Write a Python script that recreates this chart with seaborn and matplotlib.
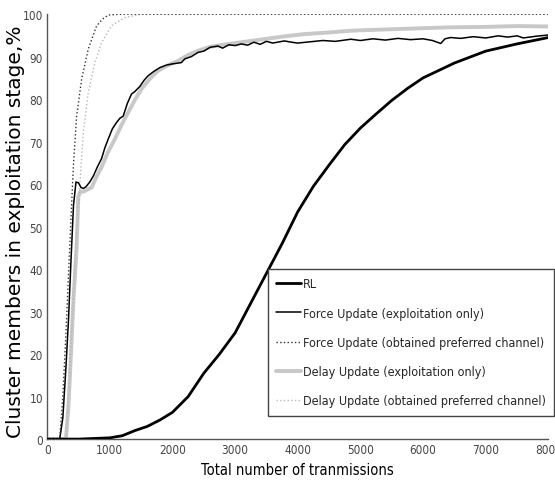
import pandas as pd
import matplotlib
matplotlib.use("Agg")
import matplotlib.pyplot as plt
import seaborn as sns

# Values (x = transmissions, y = %)
rl_x = [0, 500, 1000, 1200, 1400, 1600, 1800, 2000, 2250, 2500, 2750, 3000, 3250, 3500,
        3750, 4000, 4250, 4500, 4750, 5000, 5250, 5500, 5750, 6000, 6500, 7000, 7500, 8000]
rl_y = [0, 0, 0.3, 0.8, 2, 3, 4.5, 6.3, 10, 15.5, 20, 25, 32, 39,
        46, 53.5, 59.5, 64.5, 69.3, 73.2, 76.5, 79.7, 82.5, 85, 88.5, 91.3, 93, 94.5]

force_x = [0, 200, 250, 300, 340, 380, 420, 460, 500, 540, 580, 620, 680, 740, 800, 868,
           920, 974, 1040, 1107, 1160, 1213, 1280, 1346, 1400, 1480, 1550, 1611, 1700,
           1796, 1900, 2000, 2142, 2200, 2300, 2408, 2500, 2600, 2726, 2800, 2900, 3000,
           3100, 3200, 3300, 3400, 3500, 3600, 3787, 3900, 4000, 4200, 4400, 4600, 4849,
           5000, 5200, 5400, 5600, 5800, 6000, 6150, 6282, 6350, 6441, 6600, 6800, 7000,
           7200, 7350, 7503, 7600, 7800, 8000]
force_y = [0, 0, 5, 17, 28, 42, 55, 60.5, 60.3, 59.2, 59, 59.4, 60.5, 62, 64, 66,
           68.5, 70.6, 73, 74.5, 75.5, 76, 79, 81.2, 81.8, 83, 84.5, 85.5, 86.5,
           87.4, 88, 88.3, 88.6, 89.5, 90, 91, 91.3, 92.2, 92.5, 92, 92.8, 92.6,
           93, 92.7, 93.4, 92.9, 93.6, 93.2, 93.7, 93.4, 93.2, 93.5, 93.8, 93.6, 94.1,
           93.8, 94.2, 93.9, 94.3, 94.0, 94.2, 93.8, 93.1, 94.2, 94.5, 94.3, 94.7, 94.4,
           94.9, 94.6, 94.9, 94.4, 94.8, 95.1]

force_pref_x = [0, 200, 250, 300, 350, 417, 470, 550, 656, 788, 880, 975, 1200, 8000]
force_pref_y = [0, 0, 10, 25, 42, 64, 76, 84.7, 91.8, 97.2, 98.8, 99.8, 100, 100]

delay_x = [0, 300, 340, 380, 420, 470, 497, 530, 576, 640, 709, 780, 868, 970, 1080,
           1190, 1293, 1400, 1505, 1640, 1771, 1930, 2089, 2250, 2408, 2600, 2800, 3000,
           3256, 3500, 3800, 4100, 4500, 4849, 5200, 5600, 6000, 6441, 7000, 7500, 8000]
delay_y = [0, 0, 8, 20, 33, 45, 57, 58.3, 58.2, 58.7, 59.2, 61.5, 64, 67.5, 70.6,
           74, 76.9, 79.8, 82.4, 84.8, 86.7, 88, 89, 90.4, 91.4, 92.3, 92.8, 93.2,
           93.7, 94.2, 94.8, 95.3, 95.7, 96.1, 96.3, 96.5, 96.7, 96.9, 97.0, 97.2, 97.1]

delay_pref_x = [0, 300, 360, 410, 460, 523, 576, 656, 762, 868, 1027, 1239, 1505, 8000]
delay_pref_y = [0, 0, 15, 32, 47, 60.4, 72, 81.6, 88.6, 93.3, 97.3, 99.2, 100, 100]

labels = ["RL",
          "Force Update (exploitation only)",
          "Force Update (obtained preferred channel)",
          "Delay Update (exploitation only)",
          "Delay Update (obtained preferred channel)"]

sns.set_style("white")
plt.rcParams["font.family"] = ["DejaVu Sans", "Liberation Sans"]

fig = plt.figure(figsize=(5.55, 4.89), dpi=100)
ax = fig.add_axes([0.085, 0.100, 0.903, 0.869])

# thick grey line drawn underneath the black ones
sns.lineplot(x=delay_x, y=delay_y, ax=ax, color="#c8c8c8", linewidth=2.8,
             label=labels[3], zorder=2, sort=False)
sns.lineplot(x=delay_pref_x, y=delay_pref_y, ax=ax, color="#b8b8b8", linewidth=1.0,
             linestyle=":", label=labels[4], zorder=2, sort=False)
sns.lineplot(x=rl_x, y=rl_y, ax=ax, color="black", linewidth=2.0,
             label=labels[0], zorder=3, sort=False)
sns.lineplot(x=force_x, y=force_y, ax=ax, color="black", linewidth=1.1,
             label=labels[1], zorder=3, sort=False)
sns.lineplot(x=force_pref_x, y=force_pref_y, ax=ax, color="#333333", linewidth=1.0,
             linestyle=":", label=labels[2], zorder=3, sort=False)

ax.set_xlim(0, 8000)
ax.set_ylim(0, 100)
ax.set_xticks(range(0, 8001, 1000))
ax.set_yticks(range(0, 101, 10))
ax.tick_params(direction="in", length=4, color="#555555", labelcolor="#444444",
               labelsize=8.5, pad=3)
for t in ax.get_xticklabels() + ax.get_yticklabels():
    t.set_fontstretch("condensed")
for side in ["top", "right"]:
    ax.spines[side].set_visible(False)
for side in ["left", "bottom"]:
    ax.spines[side].set_color("#555555")
    ax.spines[side].set_linewidth(1.0)

ax.set_xlabel("Total number of tranmissions", fontsize=10.5, fontstretch="condensed",
              color="black", labelpad=4)
ax.set_ylabel("Cluster members in exploitation stage,%", fontsize=14.5,
              family="DejaVu Sans", fontstretch="normal", color="black")
ax.yaxis.set_label_coords(-0.045, 0.49)

handles, labs = ax.get_legend_handles_labels()
order = [labs.index(l) for l in labels]
leg = ax.legend([handles[i] for i in order], [labs[i] for i in order],
                loc="lower right", bbox_to_anchor=(1.012, 0.054),
                prop={"family": "DejaVu Sans", "stretch": "condensed", "size": 9},
                frameon=True, fancybox=False, framealpha=1, edgecolor="#444444",
                handlelength=2.0, handletextpad=0.1, labelspacing=1.3,
                borderpad=0.7, borderaxespad=0)
leg.get_frame().set_linewidth(1.0)

fig.savefig("out.png", dpi=100)
